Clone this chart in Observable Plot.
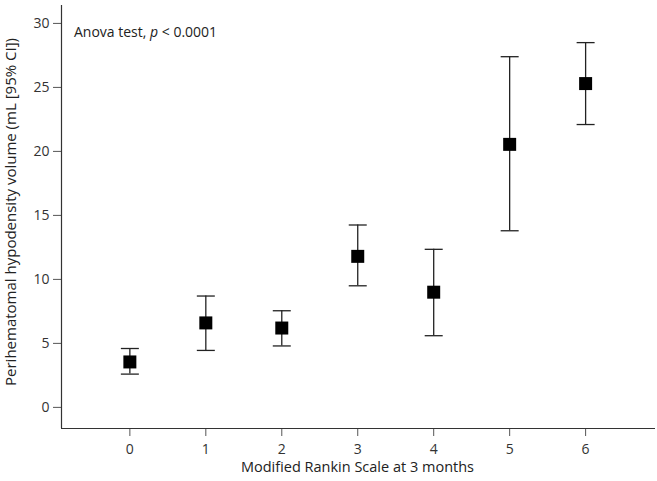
<!DOCTYPE html>
<html>
<head>
<meta charset="utf-8">
<script src="https://cdn.jsdelivr.net/npm/d3@7"></script>
<script src="https://cdn.jsdelivr.net/npm/@observablehq/plot@0.6"></script>
<style>
  html, body { margin: 0; padding: 0; background: #fff; }
  #chart svg { display: block; }
  #chart svg g[aria-label="x-axis tick label"],
  #chart svg g[aria-label="y-axis tick label"] { font-size: 14px; fill: #333; }
</style>
</head>
<body>
<div id="chart"></div>
<script>
const mrs = [0, 1, 2, 3, 4, 5, 6];
const meanVol = [3.55, 6.6, 6.2, 11.8, 9.0, 20.55, 25.3];
const lowerCI = [2.6, 4.45, 4.8, 9.5, 5.6, 13.8, 22.1];
const upperCI = [4.6, 8.7, 7.55, 14.25, 12.35, 27.4, 28.5];
const yTicks = [0, 5, 10, 15, 20, 25, 30];
const xTicks = [0, 1, 2, 3, 4, 5, 6];
const xDomain = [-0.9, 6.92];
const yDomain = [-1.65, 31.4];
const xLabel = "Modified Rankin Scale at 3 months";
const yLabel = "Perihematomal hypodensity volume (mL [95% CI])";
const note = "Anova test, p < 0.0001";

const rows = mrs.map((m, i) => ({mrs: m, mean: meanVol[i], lo: lowerCI[i], hi: upperCI[i]}));

const capSymbol = {
  draw(context) {
    context.moveTo(-9, 0);
    context.lineTo(9, 0);
  }
};

const font = "'Open Sans', sans-serif";
const W = 657, H = 481;
const chart = Plot.plot({
  width: W,
  height: H,
  marginLeft: 61,
  marginRight: 2,
  marginTop: 5,
  marginBottom: 53,
  style: {fontFamily: font, fontSize: "14px", color: "#333", background: "#fff"},
  x: {domain: xDomain},
  y: {domain: yDomain},
  marks: [
    Plot.axisX({ticks: xTicks, tickFormat: d => String(d), tickSize: 8, tickPadding: 8, label: null, stroke: "#555"}),
    Plot.axisY({ticks: yTicks, tickFormat: d => String(d), tickSize: 8, tickPadding: 4, label: null, stroke: "#555"}),
    Plot.ruleX([xDomain[0]], {stroke: "#333", strokeWidth: 1.2}),
    Plot.ruleY([yDomain[0]], {stroke: "#333", strokeWidth: 1.2}),
    Plot.ruleX(rows, {x: "mrs", y1: "lo", y2: "hi", stroke: "#222", strokeWidth: 1.3}),
    Plot.dot(rows, {x: "mrs", y: "lo", symbol: capSymbol, stroke: "#222", strokeWidth: 1.3}),
    Plot.dot(rows, {x: "mrs", y: "hi", symbol: capSymbol, stroke: "#222", strokeWidth: 1.3}),
    Plot.dot(rows, {x: "mrs", y: "mean", symbol: "square", r: 7.33, fill: "#000", stroke: null})
  ]
});
document.getElementById("chart").appendChild(chart);

const svg = d3.select(chart);
// axis titles
svg.append("text")
  .attr("x", 357.5).attr("y", 472)
  .attr("text-anchor", "middle")
  .attr("font-family", font).attr("font-size", 14.5).attr("fill", "#222")
  .text(xLabel);
svg.append("text")
  .attr("transform", "translate(16,212) rotate(-90)")
  .attr("text-anchor", "middle")
  .attr("font-family", font).attr("font-size", 15).attr("fill", "#222")
  .text(yLabel);
// annotation with italic p
const t = svg.append("text")
  .attr("x", 74).attr("y", 37)
  .attr("text-anchor", "start")
  .attr("font-family", font).attr("font-size", 14).attr("fill", "#222");
note.split(/(\bp\b)/).forEach(s => {
  const span = t.append("tspan").text(s);
  if (s === "p") span.attr("font-style", "italic");
});
</script>
</body>
</html>
